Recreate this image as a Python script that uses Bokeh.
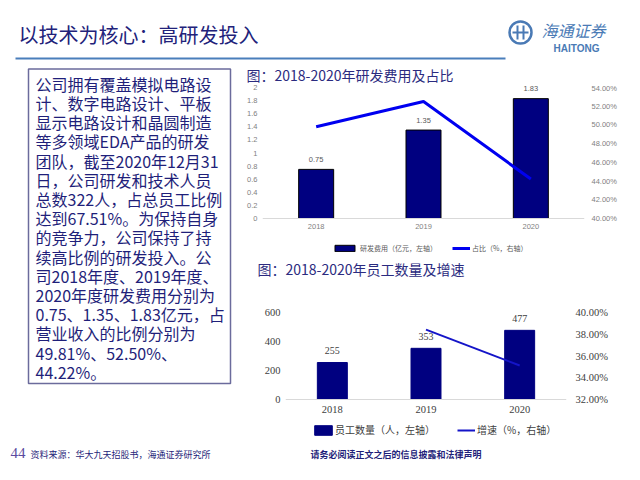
from bokeh.plotting import figure
from bokeh.models import (Range1d, FactorRange, LinearAxis, FixedTicker, PrintfTickFormatter,
                          CustomJSTickFormatter, Legend, LegendItem)
from bokeh.layouts import column, row
from bokeh.embed import file_html
from bokeh.resources import INLINE
from bokeh.core.properties import value

# ---------------- data ----------------
years = ["2018", "2019", "2020"]
rd_expense = [0.75, 1.35, 1.83]          # 研发费用（亿元）
rd_ratio = [49.81, 52.50, 44.22]         # 占比（%）
staff = [255, 353, 477]                  # 员工数量（人）
staff_growth = [float("nan"), 38.43, 35.13]  # 增速（%）

rd_left_ticks = [0, 0.2, 0.4, 0.6, 0.8, 1.0, 1.2, 1.4, 1.6, 1.8, 2.0]
rd_right_ticks = [40, 42, 44, 46, 48, 50, 52, 54]
staff_left_ticks = [0, 200, 400, 600]
staff_right_ticks = [32, 34, 36, 38, 40]

slide_title = "以技术为核心：高研发投入"
chart1_title = "图：2018-2020年研发费用及占比"
chart2_title = "图：2018-2020年员工数量及增速"
legend1 = ["研发费用（亿元，左轴）", "占比（%，右轴）"]
legend2 = ["员工数量（人，左轴）", "增速（%，右轴）"]
body_lines = [
    "公司拥有覆盖模拟电路设",
    "计、数字电路设计、平板",
    "显示电路设计和晶圆制造",
    "等多领域EDA产品的研发",
    "团队，截至2020年12月31",
    "日，公司研发和技术人员",
    "总数322人，占总员工比例",
    "达到67.51%。为保持自身",
    "的竞争力，公司保持了持",
    "续高比例的研发投入。公",
    "司2018年度、2019年度、",
    "2020年度研发费用分别为",
    "0.75、1.35、1.83亿元，占",
    "营业收入的比例分别为",
    "49.81%、52.50%、",
    "44.22%。",
]
source_text = "资料来源：华大九天招股书，海通证券研究所"
disclaimer = "请务必阅读正文之后的信息披露和法律声明"
page_no = "44"

CJK = "Noto Sans CJK SC"
NAVY = "#1f1f7a"
BAR = "#000080"
LINE1 = "#0000f0"
LINE2 = "#1414c8"
GRAY1 = "#7f7f7f"
GRAY2 = "#404040"


def canvas(w, h, x0, y0):
    p = figure(width=w, height=h, x_range=Range1d(x0, x0 + w), y_range=Range1d(y0 + h, y0),
               output_backend="svg", toolbar_location=None, x_axis_type=None, y_axis_type=None,
               min_border=0, outline_line_color=None, frame_align=False)
    p.background_fill_color = "white"
    p.border_fill_color = "white"
    return p


def style_axes(axes, font, size, color):
    for ax in axes:
        ax.axis_line_color = None
        ax.major_tick_line_color = None
        ax.minor_tick_line_color = None
        ax.major_tick_out = 0
        ax.major_tick_in = 0
        ax.major_label_text_font = font
        ax.major_label_text_font_size = size
        ax.major_label_text_color = color


def legend(item, loc, gw, gh, standoff, size, color):
    return Legend(items=[item], location=loc, orientation="horizontal", padding=0, margin=0,
                  border_line_color=None, background_fill_alpha=0, label_text_font=CJK,
                  glyph_width=gw, glyph_height=gh, label_height=gh, label_standoff=standoff,
                  label_text_font_size=size, label_text_color=color)


# ---------------- header ----------------
header = canvas(624, 60, 0, 0)
header.text(x=[18], y=[34], text=[slide_title], text_font=value(CJK), text_font_size="20px",
            text_color="#22227a", text_baseline="middle")
header.segment(x0=[15], y0=[58], x1=[505], y1=[58], line_color="#4a7ebb", line_width=2)
LOGO = "#4a7ab5"
header.scatter(x=[520], y=[32], size=22, marker="circle", fill_color=None,
               line_color=LOGO, line_width=2.5)
header.segment(x0=[512, 517, 523], y0=[32, 25, 25], x1=[528, 517, 523], y1=[32, 39, 39],
               line_color=LOGO, line_width=2)
header.text(x=[541], y=[29], text=["海通证券"], text_font=value(CJK), text_font_size="16px",
            text_font_style="italic", text_color=LOGO, text_baseline="middle")
header.text(x=[553], y=[48], text=["HAITONG"], text_font=value("Liberation Sans"),
            text_font_size="10px", text_font_style="bold", text_color=LOGO, text_baseline="middle")

# ---------------- left text box ----------------
left = canvas(240, 380, 0, 60)
left.quad(left=[28], right=[230], top=[68.5], bottom=[383], fill_color=None,
          line_color="#6b6b9c", line_width=1.5)
left.text(x=[35] * len(body_lines), y=[83.3 + 19.2 * i for i in range(len(body_lines))],
          text=body_lines, text_font=value(CJK), text_font_size="16px",
          text_color=NAVY, text_baseline="middle")

# ---------------- chart 1 title ----------------
t1 = canvas(384, 23, 240, 60)
t1.text(x=[246], y=[74], text=[chart1_title], text_font=value(CJK), text_font_size="14px",
        text_color="#2b2b80", text_baseline="middle")

# ---------------- chart 1 (frame runs to the figure bottom so the legend sits inside) -------
px1 = 131 / 2.0          # pixels per unit on the left axis
pp1 = 131 / 14.0         # pixels per percentage point on the right axis
c1 = figure(width=384, height=175, x_range=FactorRange(factors=years),
            y_range=Range1d(-40 / px1, 2 + 4 / px1), output_backend="svg",
            toolbar_location=None, min_border_left=22, min_border_right=40, min_border_top=0,
            min_border_bottom=0, outline_line_color=None, frame_align=False)
c1.extra_y_ranges = {"pct": Range1d(40 - 40 / pp1, 54 + 4 / pp1)}
c1.xgrid.visible = False
c1.ygrid.visible = False
c1.yaxis[0].ticker = FixedTicker(ticks=rd_left_ticks)
c1.yaxis[0].formatter = CustomJSTickFormatter(code="return String(Math.round(tick*10)/10)")
c1.yaxis[0].major_label_standoff = 5
r_ax1 = LinearAxis(y_range_name="pct", ticker=FixedTicker(ticks=rd_right_ticks),
                   formatter=PrintfTickFormatter(format="%.2f%%"), major_label_standoff=7)
c1.add_layout(r_ax1, "right")
style_axes([c1.yaxis[0], r_ax1, c1.xaxis[0]], "Liberation Sans", "7.5px", GRAY1)
c1.xaxis[0].fixed_location = 0
c1.xaxis[0].axis_line_color = "#d9d9d9"
c1.xaxis[0].major_label_standoff = 5

b1 = c1.vbar(x=years, top=rd_expense, width=0.326, fill_color=BAR, line_color="#000000",
             line_width=1)
l1 = c1.line(x=years, y=rd_ratio, y_range_name="pct", line_color=LINE1, line_width=3)
c1.text(x=years, y=rd_expense, text=[f"{v:.2f}" for v in rd_expense], y_offset=-10,
        text_align="center", text_baseline="middle", text_font=value("Liberation Sans"),
        text_font_size="7.5px", text_color="#595959")
c1.add_layout(legend(LegendItem(label=legend1[0], renderers=[b1]), (70, 5), 25, 8, 3,
                     "7px", "#595959"))
c1.add_layout(legend(LegendItem(label=legend1[1], renderers=[l1]), (190, 5), 18, 8, 2,
                     "7px", "#595959"))

# ---------------- chart 2 title ----------------
t2 = canvas(384, 24, 240, 258)
t2.text(x=[257], y=[268], text=[chart2_title], text_font=value(CJK), text_font_size="14px",
        text_color="#2b2b80", text_baseline="middle")

# ---------------- chart 2 ----------------
px2 = 87 / 600.0
pp2 = 87 / 8.0
c2 = figure(width=384, height=158, x_range=FactorRange(factors=years),
            y_range=Range1d(-41 / px2, 600 + 30 / px2), output_backend="svg",
            toolbar_location=None, min_border_left=45, min_border_right=58, min_border_top=0,
            min_border_bottom=0, outline_line_color=None, frame_align=False)
c2.extra_y_ranges = {"pct": Range1d(32 - 41 / pp2, 40 + 30 / pp2)}
c2.xgrid.visible = False
c2.ygrid.visible = False
c2.yaxis[0].ticker = FixedTicker(ticks=staff_left_ticks)
c2.yaxis[0].major_label_standoff = 5
r_ax2 = LinearAxis(y_range_name="pct", ticker=FixedTicker(ticks=staff_right_ticks),
                   formatter=PrintfTickFormatter(format="%.2f%%"), major_label_standoff=9)
c2.add_layout(r_ax2, "right")
style_axes([c2.yaxis[0], r_ax2, c2.xaxis[0]], "Liberation Serif", "10.5px", GRAY2)
c2.xaxis[0].fixed_location = 0
c2.xaxis[0].axis_line_color = "#d9d9d9"
c2.xaxis[0].major_label_standoff = 6

b2 = c2.vbar(x=years, top=staff, width=0.32, fill_color=BAR, line_color=BAR)
gx = [y for y, g in zip(years, staff_growth) if g == g]
gy = [g for g in staff_growth if g == g]
l2 = c2.line(x=gx, y=gy, y_range_name="pct", line_color=LINE2, line_width=2)
c2.text(x=years, y=staff, text=[str(v) for v in staff], y_offset=-12, text_align="center",
        text_baseline="middle", text_font=value("Liberation Serif"), text_font_size="10px",
        text_color=GRAY2)
c2.add_layout(legend(LegendItem(label=legend2[0], renderers=[b2]), (27, 3), 22, 12, 1,
                     "10px", GRAY2))
c2.add_layout(legend(LegendItem(label=legend2[1], renderers=[l2]), (172, 3), 18, 12, 2,
                     "10px", GRAY2))

# ---------------- footer ----------------
footer = canvas(624, 24, 0, 440)
footer.text(x=[10], y=[452], text=[page_no], text_font=value("Liberation Serif"),
            text_font_size="15px", text_color="#5a4aa0", text_baseline="middle")
footer.text(x=[30], y=[454], text=[source_text], text_font=value(CJK), text_font_size="9px",
            text_color=NAVY, text_baseline="middle")
footer.text(x=[310], y=[454], text=[disclaimer], text_font=value(CJK), text_font_size="9px",
            text_font_style="bold", text_color=NAVY, text_baseline="middle")

page = column(header, row(left, column(t1, c1, t2, c2)), footer)
open("out.html", "w").write(file_html(page, INLINE))
